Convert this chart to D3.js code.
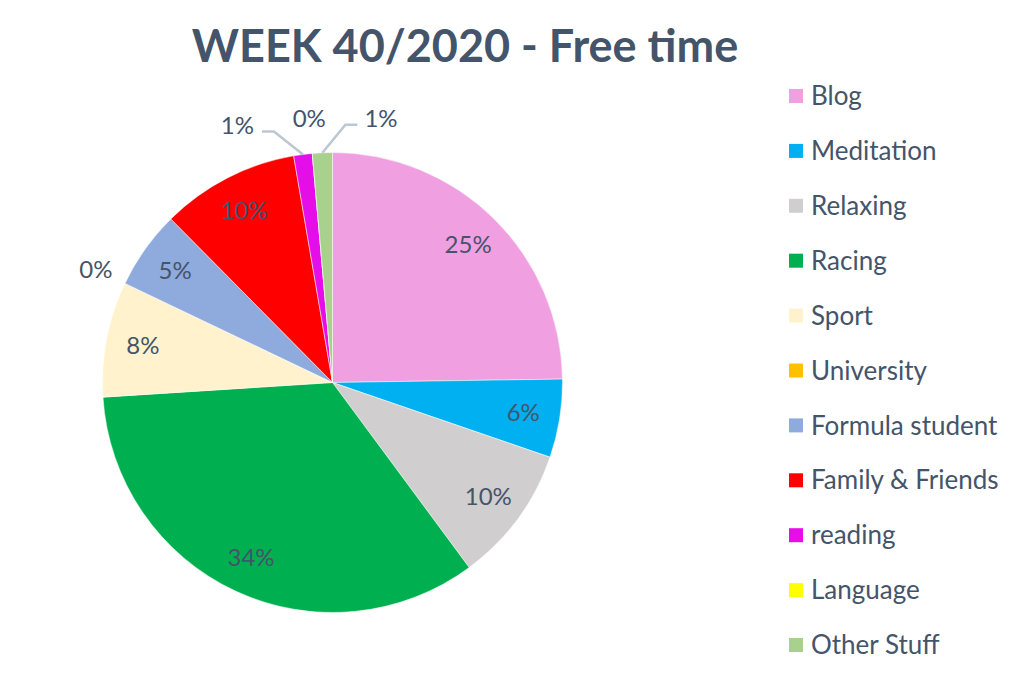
<!DOCTYPE html>
<html>
<head>
<meta charset="utf-8">
<script src="https://cdn.jsdelivr.net/npm/d3@7"></script>
<style>
  html, body { margin: 0; padding: 0; background: #fff; }
  svg { display: block; }
  text { font-family: Lato, "Open Sans", sans-serif; }
</style>
</head>
<body>
<svg id="chart" width="1023" height="678"></svg>
<script>
// ---- data ----
const title = "WEEK 40/2020 - Free time";
const categories = ["Blog", "Meditation", "Relaxing", "Racing", "Sport", "University",
  "Formula student", "Family & Friends", "reading", "Language", "Other Stuff"];
const values = [24.75, 5.5, 9.6, 34.1, 8.1, 0, 5.5, 9.7, 1.3, 0, 1.4];
const labels = ["25%", "6%", "10%", "34%", "8%", "0%", "5%", "10%", "1%", "0%", "1%"];
const colors = ["#F0A0E0", "#00B0F0", "#D0CECE", "#00B050", "#FFF2CC", "#FFC000",
  "#8FAADC", "#FF0000", "#E60EE8", "#FFFF00", "#A9D18E"];

// ---- layout ----
const svg = d3.select("#chart");
const cx = 332.5, cy = 382.5, R = 230;
const textColor = "#44546A";
const labelSize = 24;

svg.append("text")
  .attr("x", 465).attr("y", 62)
  .attr("text-anchor", "middle")
  .attr("font-size", 45).attr("font-weight", "bold")
  .attr("fill", textColor)
  .text(title);

const pie = d3.pie().sort(null).value(d => d);
const arcs = pie(values);
const arc = d3.arc().innerRadius(0).outerRadius(R);
const labelArc = d3.arc().innerRadius(R * 0.84).outerRadius(R * 0.84);

const g = svg.append("g").attr("transform", `translate(${cx},${cy})`);
g.selectAll("path.slice").data(arcs).join("path")
  .attr("class", "slice")
  .attr("d", arc)
  .attr("fill", (d, i) => colors[i])
  .attr("stroke", "#fff").attr("stroke-width", 0.5);

// labels
const pt = (a, r) => [Math.sin(a) * r, -Math.cos(a) * r];
arcs.forEach((d, i) => {
  const mid = (d.startAngle + d.endAngle) / 2;
  if (values[i] >= 2) {
    const [x, y] = labelArc.centroid(d);
    g.append("text").attr("x", x).attr("y", y).attr("dy", "0.35em")
      .attr("text-anchor", "middle").attr("font-size", labelSize).attr("fill", textColor)
      .text(labels[i]);
  } else if (values[i] === 0) {
    const [x, y] = pt(mid, R * (i === 5 ? 1.14 : 1.15));
    g.append("text").attr("x", x).attr("y", y).attr("dy", "0.35em")
      .attr("text-anchor", "middle").attr("font-size", labelSize).attr("fill", textColor)
      .text(labels[i]);
  } else {
    const [x0, y0] = pt(mid, R);
    const left = i === 8;
    const ex = x0 + (left ? -29 : 23), ey = y0 - (left ? 23 : 28);
    const hx = ex + (left ? -12 : 12);
    g.append("polyline")
      .attr("points", `${x0},${y0} ${ex},${ey} ${hx},${ey}`)
      .attr("fill", "none").attr("stroke", "#BCC7D3").attr("stroke-width", 2.5);
    g.append("text").attr("x", hx + (left ? -8 : 7)).attr("y", ey - 6).attr("dy", "0.35em")
      .attr("text-anchor", left ? "end" : "start").attr("font-size", labelSize).attr("fill", textColor)
      .text(labels[i]);
  }
});

// legend
const legend = svg.append("g");
categories.forEach((c, i) => {
  const y = 96 + i * 54.9;
  legend.append("rect").attr("x", 789).attr("y", y - 7).attr("width", 14).attr("height", 14)
    .attr("fill", colors[i]);
  legend.append("text").attr("x", 811).attr("y", y).attr("dy", "0.35em")
    .attr("font-size", 26).attr("fill", textColor).text(c);
});
</script>
</body>
</html>
